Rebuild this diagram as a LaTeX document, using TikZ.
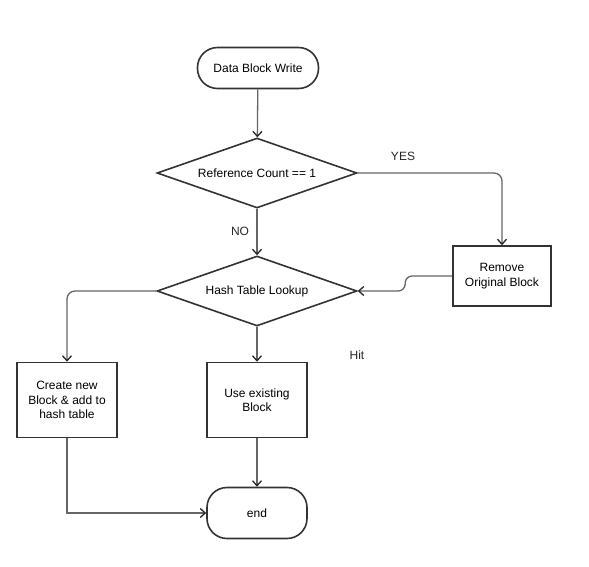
\documentclass[tikz,border=0pt]{standalone}
\usepackage{fontspec}
\setmainfont{Liberation Sans}
\usetikzlibrary{shapes.geometric,arrows.meta}

\tikzset{
  box/.style={draw=black!80, line width=1.6pt, fill=white, align=center,
    minimum width=100pt, minimum height=75pt, inner sep=2pt},
  term/.style={draw=black!80, line width=1.6pt, fill=white, rounded corners=20pt,
    minimum width=100pt, minimum height=51pt},
  decide/.style={draw=black!80, line width=1.6pt, fill=white, diamond, aspect=2.86,
    minimum width=200pt, minimum height=70pt, inner sep=1pt},
  conn/.style={draw=black!60, line width=1.3pt, -{Straight Barb[length=5pt,width=9pt,line width=1.3pt,black!85]}},
  lbl/.style={black!85}
}

\begin{document}
\begin{tikzpicture}[x=1pt, y=-1pt, font=\fontsize{12}{14.5}\selectfont]
      \useasboundingbox (0,0) rectangle (589,566);

      \node[term, minimum width=121pt, minimum height=41pt] (start) at (258,68) {Data Block Write};
      \node[decide] (refc) at (257,173) {Reference Count == 1};
      \node[box, minimum width=98pt, minimum height=60pt] (remove) at (502,276) {Remove\\Original Block};
      \node[decide] (hash) at (257,291) {Hash Table Lookup};
      \node[box] (create) at (67,400) {Create new\\Block \& add to\\hash table};
      \node[box] (use) at (257,400) {Use existing\\Block};
      \node[term] (finish) at (257,513) {end};

      \node[lbl] (yes) at (403,156) {YES};
      \node[lbl] (no) at (240,231) {NO};
      \node[lbl] (hit) at (357,355) {Hit};

      \draw[conn] (start) -- (refc);
      \draw[conn] (refc) -- (hash);
      \draw[conn, rounded corners=8pt] (refc.east) -| (remove.north);
      \draw[conn, rounded corners=7pt] (remove.west) -- ++(-47,0) |- (hash.east);
      \draw[conn, rounded corners=8pt] (hash.west) -| (create.north);
      \draw[conn] (hash) -- (use);
      \draw[conn] (use) -- (finish);
      \draw[conn] (create.south) |- (finish.west);
    \end{tikzpicture}
\end{document}
